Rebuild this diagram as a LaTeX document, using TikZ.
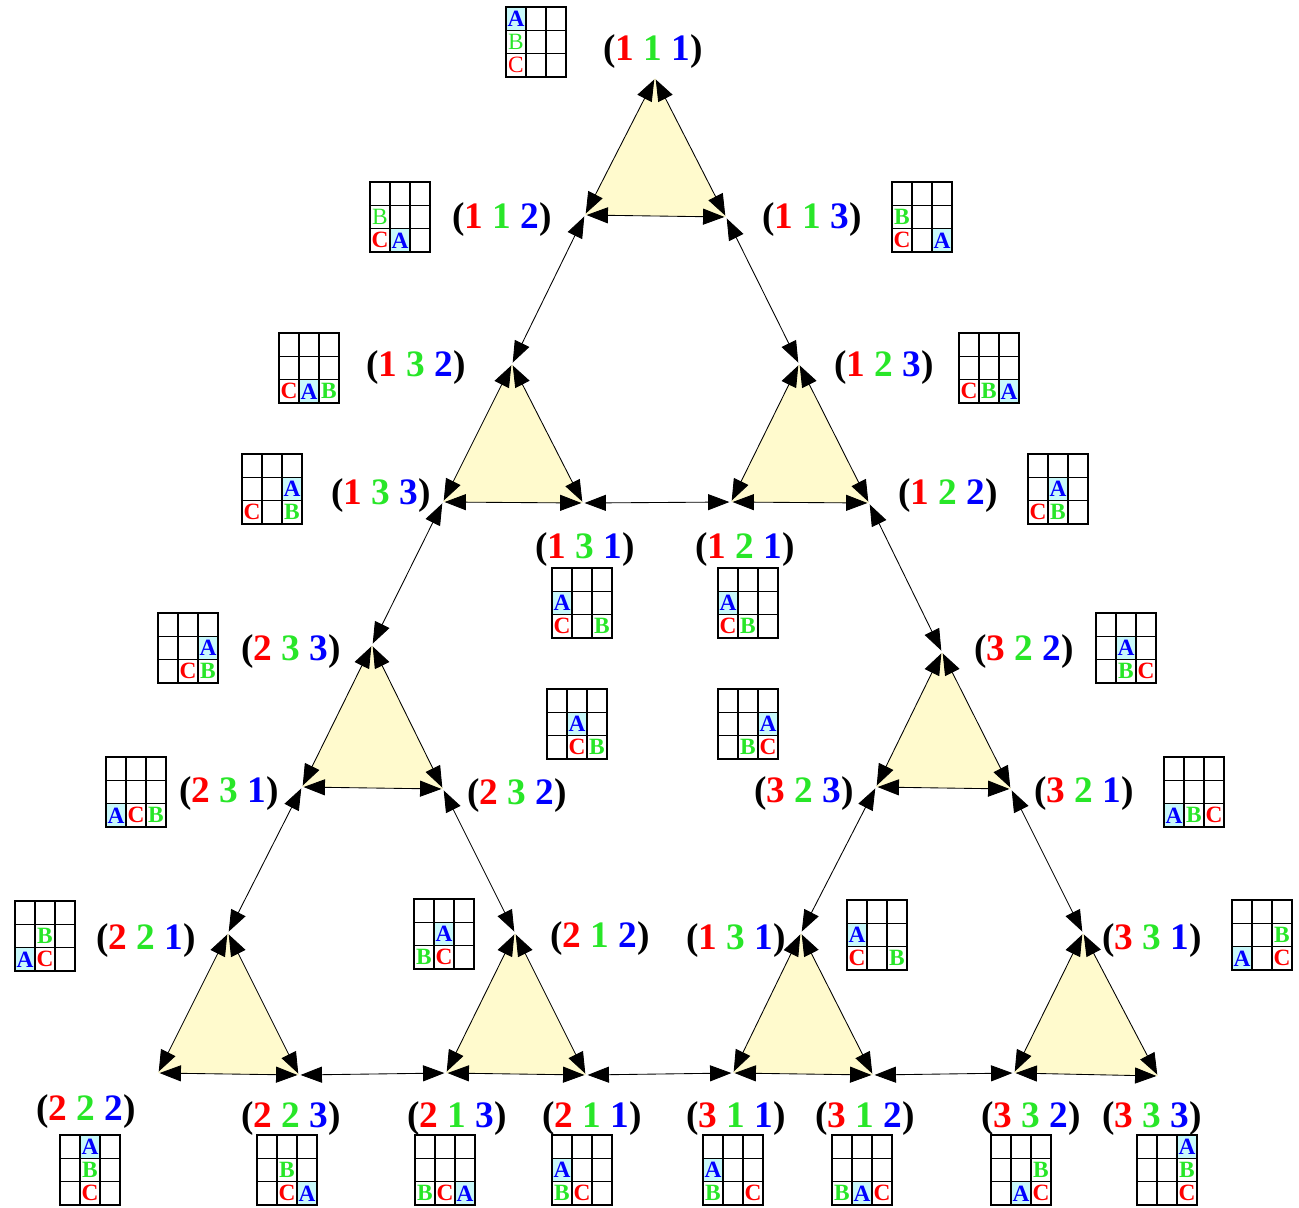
\documentclass[tikz,border=0pt]{standalone}
\usepackage{fontspec}
\setmainfont{Liberation Serif}
\usetikzlibrary{arrows.meta}
\definecolor{cred}{RGB}{255,0,0}
\definecolor{cgreen}{RGB}{40,230,40}
\definecolor{cblue}{RGB}{0,0,255}
\definecolor{ccyan}{RGB}{200,248,250}
\definecolor{tfill}{RGB}{255,250,205}
\newcommand\st[3]{(\textcolor{cred}{#1} \textcolor{cgreen}{#2} \textcolor{cblue}{#3})}
\newcommand\hgrid[7][]{%
\begin{scope}[shift={(#3,#4)},#1]
\pgfmathtruncatemacro\rB{(#6==#5)?2:3}
\pgfmathtruncatemacro\rA{3-(#7==#5)-(#7==#6)}
\fill[ccyan] ({(#7-1)*20},{(\rA-1)*70/3}) rectangle ++(20,70/3);
\foreach \i in {0,1,2,3}{\draw[gline] (\i*20,0) -- (\i*20,70); \draw[gline] (0,\i*70/3) -- (60,\i*70/3);}
\node[discC] (#2C) at ({(#5-0.5)*20},{2.5*70/3}) {C};
\node[discB] (#2B) at ({(#6-0.5)*20},{(\rB-0.5)*70/3}) {B};
\node[discA] (#2A) at ({(#7-0.5)*20},{(\rA-0.5)*70/3}) {A};
\end{scope}}
\tikzset{
  vtx/.style={circle,inner sep=0pt,minimum size=2pt},
  link/.style={line width=0.65pt,{Triangle[length=16pt,width=12pt]}-{Triangle[length=16pt,width=12pt]}},
  tri/.style={fill=tfill},
  lab/.style={font=\fontsize{28}{30}\selectfont\bfseries,anchor=base,inner sep=0pt},
  gline/.style={line width=0.9pt,black,line cap=rect},
  gfont/.style={font=\fontsize{17.5}{20}\selectfont\bfseries,inner sep=0pt},
  discA/.style={gfont,text=cblue},
  discB/.style={gfont,text=cgreen},
  discC/.style={gfont,text=cred},
  thin/.style={font=\fontsize{17.5}{20}\selectfont\mdseries}
}
\begin{document}
\begin{tikzpicture}[x=0.75pt,y=-0.75pt]
\useasboundingbox (0,0) rectangle (1299,1207);
% vertices
\node[vtx] (v111) at (655,78) {};
\node[vtx] (v112) at (585,215) {};
\node[vtx] (v113) at (726,217) {};
\node[vtx] (v132) at (512,364) {};
\node[vtx] (v133) at (443,502) {};
\node[vtx] (v131a) at (583,503) {};
\node[vtx] (v123) at (799,364) {};
\node[vtx] (v121) at (731,502) {};
\node[vtx] (v122) at (869,503) {};
\node[vtx] (v233) at (372,645) {};
\node[vtx] (v231) at (302,787) {};
\node[vtx] (v232) at (443,789) {};
\node[vtx] (v322) at (942,652) {};
\node[vtx] (v323) at (876,787) {};
\node[vtx] (v321) at (1011,789) {};
\node[vtx] (v221) at (228,933) {};
\node[vtx] (v222) at (158,1073) {};
\node[vtx] (v223) at (299,1075) {};
\node[vtx] (v212) at (515,933) {};
\node[vtx] (v213) at (446,1073) {};
\node[vtx] (v211) at (586,1075) {};
\node[vtx] (v131b) at (801,933) {};
\node[vtx] (v311) at (733,1073) {};
\node[vtx] (v312) at (873,1075) {};
\node[vtx] (v331) at (1083,933) {};
\node[vtx] (v332) at (1014,1073) {};
\node[vtx] (v333) at (1158,1076) {};
% triangle fills
\foreach \a/\b/\c in {111/112/113,132/133/131a,123/121/122,233/231/232,322/323/321,221/222/223,212/213/211,131b/311/312,331/332/333}
  \fill[tri] (v\a.center) -- (v\b.center) -- (v\c.center) -- cycle;
% triangle edges
\foreach \a/\b/\c in {111/112/113,132/133/131a,123/121/122,233/231/232,322/323/321,221/222/223,212/213/211,131b/311/312,331/332/333}{
  \draw[link] (v\a) -- (v\b);
  \draw[link] (v\a) -- (v\c);
  \draw[link] (v\b) -- (v\c);
}
% connecting edges
\draw[link] (v112) -- (v132);
\draw[link] (v113) -- (v123);
\draw[link] (v131a) -- (v121);
\draw[link] (v133) -- (v233);
\draw[link] (v122) -- (v322);
\draw[link] (v231) -- (v221);
\draw[link] (v232) -- (v212);
\draw[link] (v223) -- (v213);
\draw[link] (v211) -- (v311);
\draw[link] (v323) -- (v131b);
\draw[link] (v321) -- (v331);
\draw[link] (v312) -- (v332);
% labels
\node[lab] (l111) at (653,60) {\st111};
\node[lab] (l112) at (502,228) {\st112};
\node[lab] (l113) at (812,228) {\st113};
\node[lab] (l132) at (416,376) {\st132};
\node[lab] (l123) at (884,376) {\st123};
\node[lab] (l133) at (381,504) {\st133};
\node[lab] (l122) at (948,504) {\st122};
\node[lab] (l131a) at (585,558) {\st131};
\node[lab] (l121) at (745,558) {\st121};
\node[lab] (l233) at (291,660) {\st233};
\node[lab] (l322) at (1024,660) {\st322};
\node[lab] (l231) at (229,802) {\st231};
\node[lab] (l232) at (517,804) {\st232};
\node[lab] (l323) at (804,802) {\st323};
\node[lab] (l321) at (1084,802) {\st321};
\node[lab] (l221) at (146,949) {\st221};
\node[lab] (l212) at (600,947) {\st212};
\node[lab] (l131b) at (736,949) {\st131};
\node[lab] (l331) at (1152,949) {\st331};
\node[lab] (l222) at (86,1120) {\st222};
\node[lab] (l223) at (291,1127) {\st223};
\node[lab] (l213) at (457,1127) {\st213};
\node[lab] (l211) at (592,1127) {\st211};
\node[lab] (l311) at (736,1127) {\st311};
\node[lab] (l312) at (865,1127) {\st312};
\node[lab] (l332) at (1031,1127) {\st332};
\node[lab] (l333) at (1152,1127) {\st333};
% grids
\hgrid[discB/.append style={thin},discC/.append style={thin}]{g111}{506}{7}{1}{1}{1}
\hgrid[discB/.append style={thin}]{g112}{370}{182}{1}{1}{2}
\hgrid{g113}{892}{182}{1}{1}{3}
\hgrid{g132}{279}{333}{1}{3}{2}
\hgrid{g123}{959}{333}{1}{2}{3}
\hgrid{g133}{242}{454}{1}{3}{3}
\hgrid{g122}{1028}{454}{1}{2}{2}
\hgrid{g131a}{552}{568}{1}{3}{1}
\hgrid{g121}{718}{568}{1}{2}{1}
\hgrid{g233}{158}{613}{2}{3}{3}
\hgrid{g322}{1096}{613}{3}{2}{2}
\hgrid{g232}{547}{689}{2}{3}{2}
\hgrid{g323}{718}{689}{3}{2}{3}
\hgrid{g231}{106}{757}{2}{3}{1}
\hgrid{g321}{1164}{757}{3}{2}{1}
\hgrid{g221}{15}{901}{2}{2}{1}
\hgrid{g212}{414}{899}{2}{1}{2}
\hgrid{g131b}{847}{900}{1}{3}{1}
\hgrid{g331}{1232}{900}{3}{3}{1}
\hgrid{g222}{60}{1135}{2}{2}{2}
\hgrid{g223}{257}{1135}{2}{2}{3}
\hgrid{g213}{415}{1135}{2}{1}{3}
\hgrid{g211}{552}{1135}{2}{1}{1}
\hgrid{g311}{703}{1135}{3}{1}{1}
\hgrid{g312}{832}{1135}{3}{1}{2}
\hgrid{g332}{991}{1135}{3}{3}{2}
\hgrid{g333}{1137}{1135}{3}{3}{3}
\end{tikzpicture}
\end{document}
